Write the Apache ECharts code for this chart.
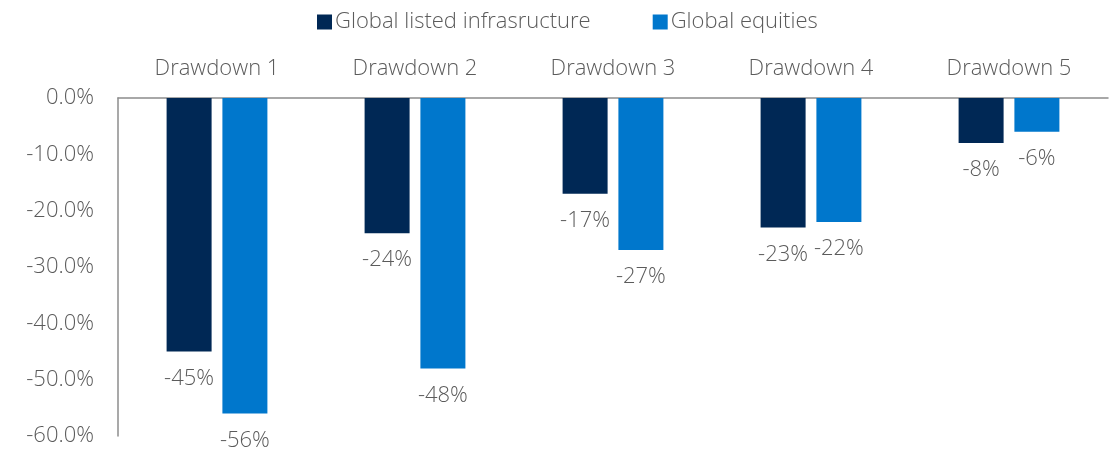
<!DOCTYPE html>
<html>
<head>
<meta charset="utf-8">
<script src="https://cdn.jsdelivr.net/npm/echarts@6/dist/echarts.min.js"></script>
<style>
  html, body { margin: 0; padding: 0; background: #fff; }
  #chart { width: 1118px; height: 451px; }
</style>
</head>
<body>
<div id="chart"></div>
<script>
// Drawdown periods and peak-to-trough losses (%)
const categories = ['Drawdown 1', 'Drawdown 2', 'Drawdown 3', 'Drawdown 4', 'Drawdown 5'];
const infrastructure = [-45, -24, -17, -23, -8];
const equities = [-56, -48, -27, -22, -6];
const seriesNames = ['Global listed infrasructure', 'Global equities'];

const textColor = '#5b5b5b';
const axisColor = '#8c8c8c';
const fontFamily = 'Open Sans, Lato, sans-serif';
const fontSize = 22;

const chart = echarts.init(document.getElementById('chart'));

function barSeries(name, data, color) {
  return {
    name: name,
    type: 'bar',
    data: data,
    barWidth: 45,
    barGap: '24%',
    itemStyle: { color: color },
    label: {
      show: true,
      position: 'bottom',
      distance: 16,
      color: textColor,
      fontSize: fontSize,
      fontFamily: fontFamily,
      fontWeight: 300,
      formatter: p => p.value + '%'
    }
  };
}

chart.setOption({
  animation: false,
  textStyle: { fontFamily: fontFamily },
  legend: {
    top: 6,
    left: 312,
    itemWidth: 15,
    itemHeight: 15,
    itemGap: 62,
    icon: 'rect',
    textStyle: { color: textColor, fontSize: fontSize, fontFamily: fontFamily, fontWeight: 300, padding: [0, 0, 0, -2] },
    data: seriesNames
  },
  grid: { left: 118, right: 10, top: 98, bottom: 15, containLabel: false },
  xAxis: {
    type: 'category',
    position: 'top',
    data: categories,
    axisLine: { show: true, lineStyle: { color: axisColor, width: 1.5 } },
    axisTick: { show: false },
    axisLabel: { color: textColor, fontSize: fontSize, fontFamily: fontFamily, fontWeight: 300, margin: 18 }
  },
  yAxis: {
    type: 'value',
    min: -60,
    max: 0,
    interval: 10,
    axisLine: { show: true, lineStyle: { color: axisColor, width: 1.5 } },
    axisTick: { show: false },
    splitLine: { show: false },
    axisLabel: {
      color: textColor,
      fontSize: fontSize,
      fontFamily: fontFamily,
      fontWeight: 300,
      margin: 24,
      formatter: v => v.toFixed(1) + '%'
    }
  },
  series: [
    barSeries(seriesNames[0], infrastructure, '#002855'),
    barSeries(seriesNames[1], equities, '#0077cc')
  ]
});
</script>
</body>
</html>
